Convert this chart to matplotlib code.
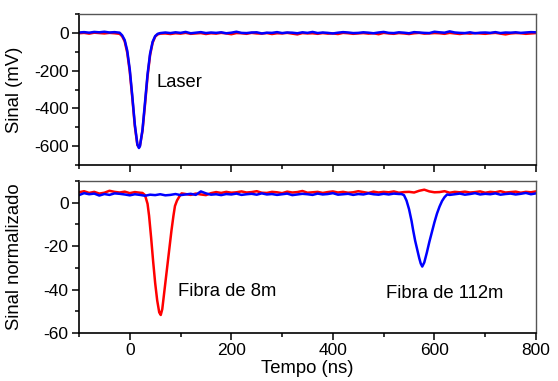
import numpy as np
import matplotlib
matplotlib.use("Agg")
import matplotlib.pyplot as plt
from matplotlib.ticker import MultipleLocator

plt.rcParams['font.family'] = ['Liberation Sans', 'DejaVu Sans']
plt.rcParams['axes.unicode_minus'] = False

# ---------------- top panel (Laser, mV) ----------------
t_top_before = np.arange(-100, -19, 10)
t_top_pulse = [-15, -10, -5, 0, 5, 10, 15, 18, 20, 25, 30, 35, 40, 45, 50, 55, 60]
t_top_after = np.arange(70, 801, 10)

blue_top_before = [2, 4, 1, 5, 3, 6, 2, 4, 1]
blue_top_pulse = [-13, -38, -94, -194, -336, -487, -591, -610, -601, -514, -368, -219, -110, -47, -17, -5, -1]
blue_top_after = [2, -1, 3, 0, 5, -2, 1, 4, -1, 2, 0, 3, -2, 1, 6, 0, -1, 2, 3, -3,
                  1, 0, 4, -1, 2, 1, -2, 3, 0, 5, -1, 2, 0, -3, 1, 4, 2, -1, 0, 3,
                  1, -2, 2, 5, 0, -1, 3, 1, -2, 4, 2, 0, -1, 6, 3, 1, 8, 2, 0, -1,
                  3, -2, 1, 2, 0, 4, -1, 2, 1, 3, 0, 2, 4, 3]

red_top_before = [-2, 0, -4, 1, -1, -3, 0, -2, -5]
red_top_pulse = [-18, -45, -105, -205, -345, -495, -595, -605, -598, -520, -380, -230, -118, -52, -20, -8, -4]
red_top_after = [-3, -6, -2, -4, 0, -5, -3, -1, -6, -2, -4, 0, -3, -7, -1, -2, -5, 0, -3, -4,
                 -1, -6, -2, -3, 0, -4, -8, -1, -3, -2, -5, -1, -4, -3, -6, 0, -2, -5, -3, -1,
                 -4, -2, -7, 0, -3, -5, -1, -3, -6, -2, 0, -4, -3, -1, -2, -5, 0, -3, -6, -2,
                 -4, -1, -3, -5, -2, 0, -4, -8, -3, -1, -2, -5, -3, -1]

# ---------------- bottom panel (normalized) ----------------
t_red_before = np.arange(-100, 21, 10)
t_red_pulse = [25, 30, 35, 38, 42, 46, 50, 54, 58, 61, 64, 67, 70, 74, 78, 82, 86, 89, 93, 98, 102]
t_red_after = np.arange(110, 801, 10)
red_bot_before = [4.8, 5.3, 4.5, 5.0, 4.2, 4.6, 5.5, 5.0, 4.7, 5.1, 4.4, 4.9, 4.6]
red_bot_pulse = [4.5, 3.5, -0.5, -6, -16, -27, -37, -45, -50.5, -51.7, -49, -43, -37, -29, -21, -13, -6, -1.5, 1, 3, 4.3]
red_bot_after = [4.0, 3.6, 4.2, 3.8, 3.5, 4.4, 4.9, 4.5, 5.0, 4.6, 4.8, 5.2, 4.7, 4.9, 5.3, 4.6, 4.5, 5.0, 4.8, 4.4,
                 5.1, 4.7, 4.9, 5.4, 4.6, 4.8, 5.0, 4.5, 4.9, 5.2, 4.7, 5.0, 4.6, 4.8, 5.3, 4.9, 4.5, 5.1, 4.7, 5.0,
                 4.8, 5.2, 4.6, 4.9, 5.0, 4.7, 5.5, 6.0, 5.2, 4.8, 4.9, 5.3, 4.6, 5.0, 4.8, 5.1, 4.7, 4.9, 5.2, 4.6,
                 5.0, 4.8, 5.3, 4.7, 4.9, 5.1, 4.6, 5.0, 4.8, 5.2]

t_blue_before = np.arange(-100, 531, 10)
t_blue_pulse = [535, 540, 545, 550, 555, 558, 562, 566, 570, 573, 576, 580, 585, 590, 595, 600, 605, 610, 615, 620, 625]
t_blue_after = np.arange(630, 801, 10)
blue_bot_before = [3.5, 4.4, 3.9, 4.2, 3.3, 4.0, 3.6, 4.3, 4.1, 3.8, 3.4, 3.9, 3.6, 3.2, 3.7, 3.5, 3.9, 3.4, 3.6, 4.0,
                   3.5, 3.8, 4.1, 3.6, 5.2, 4.3, 3.7, 3.9, 3.5, 4.0, 3.8, 4.2, 3.6, 3.9, 4.1, 3.7, 4.3, 3.8, 4.0, 3.6,
                   3.9, 4.2, 3.5, 3.8, 4.1, 3.9, 3.6, 4.2, 3.8, 4.0, 4.4, 3.7, 3.9, 4.1, 3.6, 4.0, 3.8, 4.3, 3.9, 3.7,
                   4.1, 3.8, 4.2, 4.0]
blue_bot_pulse = [4.0, 3.5, 1.0, -3, -8.5, -12.6, -17.5, -21.5, -25.5, -28, -29.4, -27.5, -23, -18, -13.5, -9, -5, -1.8, 0.8, 2.6, 3.8]
blue_bot_after = [3.6, 3.9, 4.2, 3.7, 4.0, 4.4, 3.8, 4.1, 3.9, 4.3, 3.7, 4.0, 4.2, 3.8, 4.1, 4.5, 3.9, 4.3]

x_ticks = [0, 200, 400, 600, 800]
top_yticks = [0, -200, -400, -600]
bot_yticks = [0, -20, -40, -60]

RED = '#ff0000'
BLUE = '#0000ff'


def cat(*parts):
    return np.concatenate([np.asarray(p, dtype=float) for p in parts])


fig = plt.figure(figsize=(5.58, 3.81), dpi=100)
L, R = 79 / 558, 536 / 558
ax1 = fig.add_axes([L, 1 - 165 / 381, R - L, (165 - 14) / 381])
ax2 = fig.add_axes([L, 1 - 333 / 381, R - L, (333 - 181) / 381])

lw = 1.8
ax1.plot(cat(t_top_before, t_top_pulse, t_top_after), cat(red_top_before, red_top_pulse, red_top_after),
         color=RED, lw=lw)
ax1.plot(cat(t_top_before, t_top_pulse, t_top_after), cat(blue_top_before, blue_top_pulse, blue_top_after),
         color=BLUE, lw=lw)
ax2.plot(cat(t_red_before, t_red_pulse, t_red_after), cat(red_bot_before, red_bot_pulse, red_bot_after),
         color=RED, lw=lw)
ax2.plot(cat(t_blue_before, t_blue_pulse, t_blue_after), cat(blue_bot_before, blue_bot_pulse, blue_bot_after),
         color=BLUE, lw=lw)

for ax in (ax1, ax2):
    ax.set_xlim(-100, 800)
    ax.set_xticks(x_ticks)
    ax.xaxis.set_minor_locator(MultipleLocator(100))
    ax.tick_params(which='both', direction='out', top=False, right=False, labelsize=12.5, width=1.1, pad=2.5)
    ax.tick_params(which='major', length=5)
    ax.tick_params(which='minor', length=3)
    for s in ('left', 'bottom'):
        ax.spines[s].set_linewidth(1.2)
        ax.spines[s].set_color('black')
    for s in ('top', 'right'):
        ax.spines[s].set_linewidth(1.0)
        ax.spines[s].set_color('#555555')

ax1.set_ylim(-700, 100)
ax1.set_yticks(top_yticks)
ax1.yaxis.set_minor_locator(MultipleLocator(100))
ax1.tick_params(axis='x', labelbottom=False)
ax1.set_ylabel('Sinal (mV)', fontsize=13.3)
ax1.yaxis.set_label_coords(-0.1225, 0.5)
ax1.text(52, -263, 'Laser', fontsize=13.2, ha='left', va='center')

ax2.set_ylim(-60, 10)
ax2.set_yticks(bot_yticks)
ax2.yaxis.set_minor_locator(MultipleLocator(10))
ax2.set_ylabel('Sinal normalizado', fontsize=13.3)
ax2.yaxis.set_label_coords(-0.1225, 0.5)
ax2.set_xlabel('Tempo (ns)', fontsize=13.3)
ax2.xaxis.set_label_coords(0.5, -0.18)
ax2.text(95, -40.8, 'Fibra de 8m', fontsize=13.3, ha='left', va='center')
ax2.text(505, -41.7, 'Fibra de 112m', fontsize=13.3, ha='left', va='center')

fig.savefig('out.png', dpi=100)
